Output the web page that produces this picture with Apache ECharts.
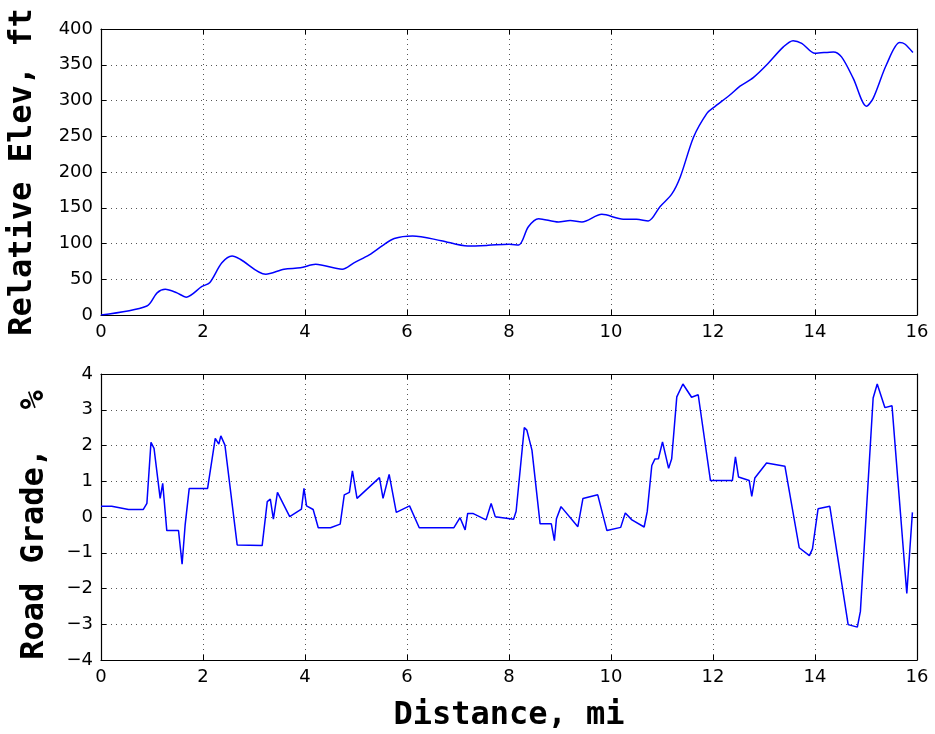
<!DOCTYPE html>
<html><head><meta charset="utf-8">
<script src="https://cdn.jsdelivr.net/npm/echarts@6/dist/echarts.min.js"></script>
<style>html,body{margin:0;padding:0;background:#fff}#c{width:935px;height:734px}</style>
</head><body><div id="c"></div>
<script>
// Elevation profile (miles, feet)
const elevMiles = [0,0.9,1.1,1.26,1.49,1.67,1.98,2.13,2.37,2.57,2.73,3.23,3.59,3.91,4.21,4.73,4.96,5.26,5.52,5.75,6.11,6.67,7.19,7.59,8.0,8.19,8.38,8.58,8.97,9.2,9.43,9.82,10.24,10.5,10.73,10.96,11.19,11.36,11.62,11.88,12.01,12.33,12.53,12.79,13.05,13.38,13.57,13.74,14.0,14.36,14.52,14.75,15.01,15.14,15.4,15.66,15.76,15.92];
const elevFeet  = [0,12.6,31,36,31,25,40,45,73,82.5,78,57,64,66,71,64,73,84,97,107,110.5,104,96.5,97.4,99,98,123.5,134.7,130,132,130,140.8,134,134,131.5,151.5,169,193.5,249,282,290,307.7,320,332,349.6,375,383.7,380,366,368,361,331,292,303,350,381,379,367];
// Road grade (miles, percent)
const gradeMiles = [0,0.21,0.54,0.83,0.9,0.98,1.04,1.16,1.21,1.29,1.52,1.59,1.65,1.73,2.09,2.24,2.31,2.35,2.43,2.67,3.16,3.26,3.32,3.38,3.46,3.7,3.93,3.98,4.03,4.16,4.26,4.5,4.69,4.77,4.87,4.93,5.02,5.46,5.53,5.65,5.79,6.05,6.24,6.92,7.04,7.14,7.19,7.29,7.55,7.65,7.73,8.09,8.14,8.3,8.35,8.45,8.61,8.83,8.89,8.93,9.02,9.35,9.45,9.74,9.92,10.19,10.28,10.41,10.65,10.71,10.8,10.86,10.93,11.01,11.13,11.19,11.29,11.41,11.58,11.71,11.95,12.38,12.44,12.5,12.71,12.76,12.82,13.05,13.41,13.69,13.89,13.95,14.06,14.29,14.65,14.83,14.89,15.14,15.22,15.37,15.51,15.8,15.91];
const gradePct   = [0.30,0.30,0.21,0.21,0.38,2.09,1.92,0.52,0.94,-0.38,-0.38,-1.32,-0.22,0.80,0.80,2.2,2.04,2.27,2.01,-0.78,-0.80,0.43,0.50,-0.06,0.69,0.01,0.22,0.80,0.31,0.21,-0.30,-0.30,-0.20,0.62,0.69,1.29,0.52,1.10,0.52,1.19,0.13,0.31,-0.30,-0.30,-0.02,-0.36,0.10,0.10,-0.08,0.38,0.01,-0.06,0.16,2.5,2.43,1.87,-0.19,-0.19,-0.66,-0.05,0.29,-0.27,0.52,0.62,-0.38,-0.29,0.11,-0.08,-0.28,0.15,1.44,1.62,1.63,2.1,1.36,1.63,3.36,3.72,3.35,3.42,1.02,1.02,1.68,1.12,1.02,0.58,1.09,1.51,1.42,-0.86,-1.08,-0.89,0.23,0.30,-3.01,-3.08,-2.64,3.33,3.72,3.06,3.11,-2.14,0.13];
const xTicks = [0,2,4,6,8,10,12,14,16];
const elevTicks = [0,50,100,150,200,250,300,350,400];
const gradeTicks = [-4,-3,-2,-1,0,1,2,3,4];

const zip = (a,b) => a.map((v,i)=>[v,b[i]]);
const fmt = v => String(v).replace('-', '\u2212');
const tickFont = {fontFamily:'DejaVu Sans', fontSize:18, color:'#000'};
const nameFont = {fontFamily:'DejaVu Sans Mono', fontWeight:'bold', fontSize:32, color:'#000'};
const grid = {show:true, lineStyle:{color:'#555', width:1, type:[1,4]}};
const axLine = {show:true, onZero:false, lineStyle:{color:'#000', width:1.2}};
const tick = {show:true, inside:true, length:5, lineStyle:{color:'#000', width:1}};

function xAx(gi, name){
  return {type:'value', gridIndex:gi, min:xTicks[0], max:xTicks[xTicks.length-1], interval:2,
    position:'bottom', axisLine:axLine, axisTick:tick, splitLine:grid,
    axisLabel:Object.assign({margin:8, formatter:fmt}, tickFont),
    name:name, nameLocation:'middle', nameGap:40, nameTextStyle:nameFont};
}
function xTop(gi){
  return {type:'value', gridIndex:gi, min:0, max:16, interval:2, position:'top',
    axisLine:axLine, axisTick:tick, splitLine:{show:false}, axisLabel:{show:false}};
}
function yAx(gi, ticks, iv, name, gap, pad){
  return {type:'value', gridIndex:gi, min:ticks[0], max:ticks[ticks.length-1], interval:iv,
    position:'left', axisLine:axLine, axisTick:tick, splitLine:grid,
    axisLabel:Object.assign({margin:8, formatter:fmt}, tickFont),
    name:name, nameLocation:'middle', nameGap:gap,
    nameTextStyle:Object.assign({padding:pad}, nameFont)};
}
function yRight(gi, ticks, iv){
  return {type:'value', gridIndex:gi, min:ticks[0], max:ticks[ticks.length-1], interval:iv,
    position:'right', axisLine:axLine, axisTick:tick, splitLine:{show:false}, axisLabel:{show:false}};
}

const chart = echarts.init(document.getElementById('c'), null, {renderer:'canvas'});
chart.setOption({
  animation:false,
  backgroundColor:'#fff',
  grid:[
    {left:101, right:18, top:29, height:286, outerBoundsMode:'none', containLabel:false},
    {left:101, right:18, top:374, height:286, outerBoundsMode:'none', containLabel:false}
  ],
  xAxis:[xAx(0,''), xAx(1,'Distance, mi'), xTop(0), xTop(1)],
  yAxis:[yAx(0,elevTicks,50,'Relative Elev, ft',62,[0,0,0,0]),
         yAx(1,gradeTicks,1,'Road Grade,  %',50,[0,16,0,0]),
         yRight(0,elevTicks,50), yRight(1,gradeTicks,1)],
  series:[
    {type:'line', xAxisIndex:0, yAxisIndex:0, data:zip(elevMiles,elevFeet), smooth:0.3, showSymbol:false,
     lineStyle:{color:'#0000ff', width:1.5}},
    {type:'line', xAxisIndex:1, yAxisIndex:1, data:zip(gradeMiles,gradePct), showSymbol:false,
     lineStyle:{color:'#0000ff', width:1.5}}
  ]
});
</script></body></html>
